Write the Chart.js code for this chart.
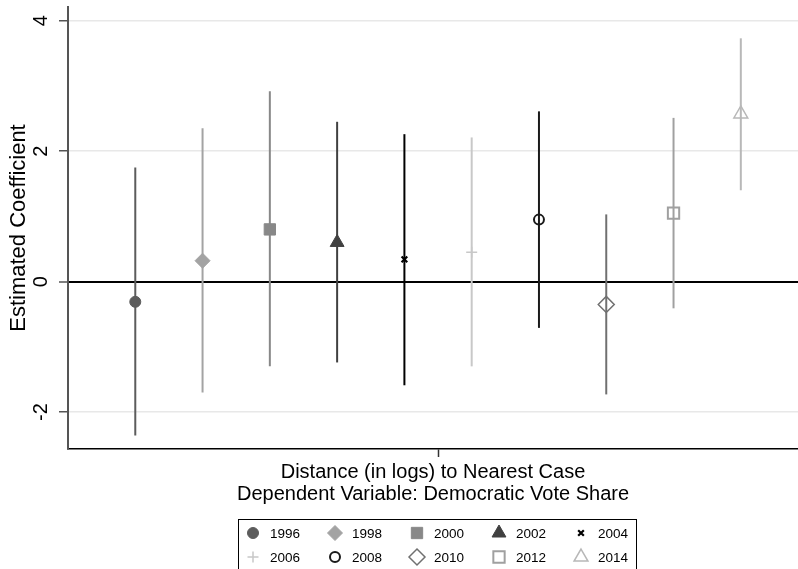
<!DOCTYPE html>
<html>
<head>
<meta charset="utf-8">
<script src="https://cdn.jsdelivr.net/npm/chart.js@4.4.1/dist/chart.umd.min.js"></script>
<style>
  html, body { margin: 0; padding: 0; background: #fff; overflow: hidden; }
</style>
</head>
<body>
<canvas id="coefChart" width="798" height="569"></canvas>
<script>
// datos
const years = ['1996', '1998', '2000', '2002', '2004', '2006', '2008', '2010', '2012', '2014'];
const estimates = [-0.31, 0.32, 0.80, 0.60, 0.34, 0.45, 0.95, -0.35, 1.05, 2.57];
const lowerCI = [-2.36, -1.70, -1.30, -1.24, -1.59, -1.30, -0.71, -1.73, -0.41, 1.40];
const upperCI = [1.75, 2.35, 2.92, 2.45, 2.26, 2.21, 2.61, 1.03, 2.51, 3.73];
const yTicks = [-2, 0, 2, 4];

// estilo de cada año (marcador tipo Stata)
const markerStyles = [
  { pointStyle: 'circle',   radius: 5.5, color: '#5c5c5c', filled: true,  borderWidth: 1 },
  { pointStyle: 'rectRot',  radius: 7.5, color: '#a3a3a3', filled: true,  borderWidth: 1 },
  { pointStyle: 'rect',     radius: 8,   color: '#888888', filled: true,  borderWidth: 1 },
  { pointStyle: 'triangle', radius: 8,   color: '#404040', filled: true,  borderWidth: 1 },
  { pointStyle: 'crossRot', radius: 4,   color: '#000000', filled: false, borderWidth: 2.2 },
  { pointStyle: 'cross',    radius: 5.5, color: '#c8c8c8', filled: false, borderWidth: 1.5 },
  { pointStyle: 'circle',   radius: 5,   color: '#1a1a1a', filled: false, borderWidth: 2 },
  { pointStyle: 'rectRot',  radius: 8,   color: '#707070', filled: false, borderWidth: 1.5 },
  { pointStyle: 'rect',     radius: 8,   color: '#a0a0a0', filled: false, borderWidth: 2 },
  { pointStyle: 'triangle', radius: 8,   color: '#b8b8b8', filled: false, borderWidth: 1.5 }
];

const FONT = '"Liberation Sans", Arial, Helvetica, sans-serif';
Chart.defaults.font.family = FONT;
Chart.defaults.color = '#000';

const datasets = years.map((yr, i) => {
  const st = markerStyles[i];
  return {
    label: yr,
    data: [
      { x: i + 1, y: lowerCI[i] },
      { x: i + 1, y: estimates[i] },
      { x: i + 1, y: upperCI[i] }
    ],
    showLine: true,
    borderColor: st.color,
    borderWidth: 2,
    pointStyle: st.pointStyle,
    pointRadius: [0, st.radius, 0],
    pointHoverRadius: [0, st.radius, 0],
    pointBackgroundColor: st.filled ? st.color : 'rgba(0,0,0,0)',
    pointBorderColor: st.color,
    pointBorderWidth: st.borderWidth
  };
});

// leyenda con recuadro, 5 columnas
const stataLegend = {
  id: 'stataLegend',
  afterDraw(chart) {
    const ctx = chart.ctx;
    ctx.save();
    ctx.strokeStyle = '#000';
    ctx.lineWidth = 1;
    ctx.strokeRect(238.5, 519.5, 398, 70);
    ctx.font = '13.5px ' + FONT;
    ctx.textBaseline = 'middle';
    chart.data.datasets.forEach((ds, i) => {
      const st = markerStyles[i];
      const mx = 253 + (i % 5) * 82;
      const my = 533 + Math.floor(i / 5) * 24;
      ctx.fillStyle = st.filled ? st.color : 'rgba(0,0,0,0)';
      ctx.strokeStyle = st.color;
      ctx.lineWidth = st.borderWidth;
      Chart.helpers.drawPoint(ctx, {
        pointStyle: st.pointStyle, radius: st.radius, borderWidth: st.borderWidth, rotation: 0
      }, mx, my);
      ctx.fillStyle = '#000';
      ctx.fillText(ds.label, mx + 17, my + 1);
    });
    ctx.restore();
  }
};

new Chart(document.getElementById('coefChart'), {
  type: 'scatter',
  data: { datasets: datasets },
  options: {
    responsive: false,
    animation: false,
    layout: { padding: { top: 7, right: 0, bottom: 0, left: 0 } },
    plugins: {
      legend: { display: false },
      tooltip: { enabled: false }
    },
    scales: {
      x: {
        type: 'linear',
        min: 0,
        max: 10.85,
        afterBuildTicks: (scale) => { scale.ticks = [{ value: 5.5 }]; },
        afterFit: (scale) => { scale.height = 120; scale.paddingLeft = 0; scale.paddingRight = 0; },
        ticks: { display: false },
        grid: {
          drawOnChartArea: false,
          drawTicks: true,
          tickLength: 8,
          tickColor: '#333',
          tickWidth: 1.5
        },
        border: { display: true, color: '#000', width: 1.5 },
        title: {
          display: true,
          text: ['Distance (in logs) to Nearest Case', 'Dependent Variable: Democratic Vote Share'],
          font: { size: 20, lineHeight: 1.1 },
          color: '#000',
          padding: { top: 0, bottom: 64 }
        }
      },
      y: {
        type: 'linear',
        min: -2.567,
        max: 4.21,
        afterBuildTicks: (scale) => { scale.ticks = yTicks.map(v => ({ value: v })); },
        afterFit: (scale) => { scale.width = 68; scale.paddingTop = 0; scale.paddingBottom = 0; },
        ticks: {
          minRotation: 90,
          maxRotation: 90,
          crossAlign: 'center',
          padding: 9,
          font: { size: 20 },
          color: '#000',
          callback: (v) => String(v)
        },
        grid: {
          color: (c) => c.tick && c.tick.value === 0 ? '#000' : '#e8e8e8',
          lineWidth: (c) => c.tick && c.tick.value === 0 ? 2 : 1.5,
          tickColor: '#555',
          tickLength: 9,
          tickWidth: 1.5
        },
        border: { display: true, color: '#555', width: 2 },
        title: {
          display: true,
          text: 'Estimated Coefficient',
          font: { size: 22 },
          color: '#000',
          padding: { top: 6, bottom: 0 }
        }
      }
    }
  },
  plugins: [stataLegend]
});
</script>
</body>
</html>
